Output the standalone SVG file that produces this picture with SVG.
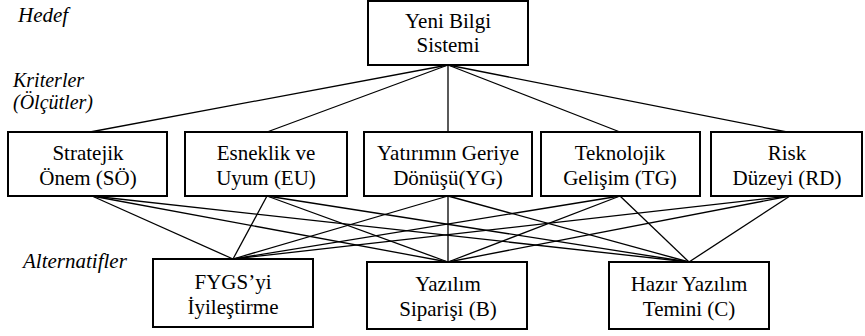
<svg xmlns="http://www.w3.org/2000/svg" width="865" height="336" viewBox="0 0 865 336">
<style>
.box{fill:#fff;stroke:#000;stroke-width:2}
.c line{stroke:#000;stroke-width:1.3}
</style>
<rect width="865" height="336" fill="#fff"/>
<g class="c" id="connectors">
<line x1="448" y1="65" x2="90" y2="132"/>
<line x1="448" y1="65" x2="267" y2="132"/>
<line x1="448" y1="65" x2="448" y2="132"/>
<line x1="448" y1="65" x2="620" y2="132"/>
<line x1="448" y1="65" x2="787" y2="132"/>
<line x1="92" y1="196" x2="233" y2="259"/>
<line x1="92" y1="196" x2="448" y2="262"/>
<line x1="92" y1="196" x2="689" y2="262"/>
<line x1="267" y1="196" x2="233" y2="259"/>
<line x1="267" y1="196" x2="448" y2="262"/>
<line x1="267" y1="196" x2="689" y2="262"/>
<line x1="448" y1="196" x2="233" y2="259"/>
<line x1="448" y1="196" x2="448" y2="262"/>
<line x1="448" y1="196" x2="689" y2="262"/>
<line x1="620" y1="196" x2="233" y2="259"/>
<line x1="620" y1="196" x2="448" y2="262"/>
<line x1="620" y1="196" x2="689" y2="262"/>
<line x1="790" y1="196" x2="233" y2="259"/>
<line x1="790" y1="196" x2="448" y2="262"/>
<line x1="790" y1="196" x2="689" y2="262"/>
</g>
<g font-family="Liberation Serif, Times New Roman, serif" font-size="21" font-style="italic" fill="#000">
<g id="label-hedef"><text x="18" y="22">Hedef</text></g>
<g id="label-kriterler"><text x="13" y="87" font-size="20">Kriterler</text><text x="13" y="109" font-size="20">(Ölçütler)</text></g>
<g id="label-alternatifler"><text x="23" y="268">Alternatifler</text></g>
</g>
<g font-family="Liberation Serif, Times New Roman, serif" font-size="21" fill="#000" text-anchor="middle">
<g id="goal"><rect class="box" x="368" y="1" width="160" height="64"/><text x="448" y="28">Yeni Bilgi</text><text x="448" y="52">Sistemi</text></g>
<g id="c1"><rect class="box" x="8" y="132" width="159" height="64"/><text x="88" y="160">Stratejik</text><text x="88" y="185">Önem (SÖ)</text></g>
<g id="c2"><rect class="box" x="185" y="132" width="162" height="64"/><text x="266" y="160">Esneklik ve</text><text x="266" y="185">Uyum (EU)</text></g>
<g id="c3"><rect class="box" x="364" y="132" width="168" height="64"/><text x="448" y="160">Yatırımın Geriye</text><text x="448" y="185">Dönüşü(YG)</text></g>
<g id="c4"><rect class="box" x="541" y="132" width="159" height="64"/><text x="620" y="160">Teknolojik</text><text x="620" y="185">Gelişim (TG)</text></g>
<g id="c5"><rect class="box" x="711" y="132" width="151" height="64"/><text x="787" y="160">Risk</text><text x="787" y="185">Düzeyi (RD)</text></g>
<g id="a1"><rect class="box" x="153" y="259" width="160" height="68"/><text x="233" y="289">FYGS’yi</text><text x="233" y="314">İyileştirme</text></g>
<g id="a2"><rect class="box" x="367" y="262" width="160" height="67"/><text x="448" y="291">Yazılım</text><text x="448" y="316">Siparişi (B)</text></g>
<g id="a3"><rect class="box" x="609" y="262" width="160" height="67"/><text x="689" y="291">Hazır Yazılım</text><text x="689" y="316">Temini (C)</text></g>
</g>
</svg>
